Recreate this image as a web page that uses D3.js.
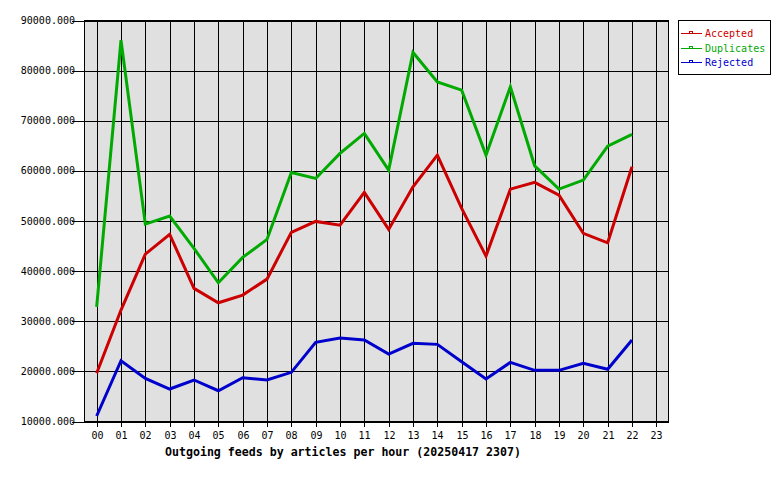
<!DOCTYPE html>
<html><head><meta charset="utf-8">
<script src="https://cdn.jsdelivr.net/npm/d3@7"></script>
<style>body{margin:0;background:#fff}svg{display:block}</style>
</head><body><svg id="c" width="780" height="480"></svg>
<script>
const hours = ["00","01","02","03","04","05","06","07","08","09","10","11","12","13","14","15","16","17","18","19","20","21","22","23"];
const accepted = [19610,32230,43400,47330,36560,33690,35220,38410,47730,49920,49180,55700,48330,56820,63140,52510,43000,56360,57700,55160,47530,45650,60810];
const duplicates = [32890,86070,49380,50980,44540,37680,42740,46330,59690,58490,63480,67470,60150,83620,77760,76100,63140,76760,61010,56360,58160,64940,67270];
const rejected = [11100,22120,18610,16480,18280,16140,18730,18280,19810,25790,26650,26250,23460,25590,25390,21920,18470,21800,20210,20210,21600,20410,26250];
const yTicks = [10000,20000,30000,40000,50000,60000,70000,80000,90000];
const seriesNames = ["Accepted","Duplicates","Rejected"];
const seriesColors = ["#cc0000","#00aa00","#0000cc"];
const title = "Outgoing feeds by articles per hour (20250417 2307)";

const series = [accepted, duplicates, rejected];
const svg = d3.select("#c");
const L = 84.5, R = 668.5, T = 20.5, B = 421.5;
const x = d3.scaleBand().domain(hours).range([L, R]);
const y = d3.scaleLinear().domain([10000, 90000]).range([B, T]);
const font = "'DejaVu Sans Mono', monospace";

svg.append("rect").attr("x", L).attr("y", T).attr("width", R - L).attr("height", B - T)
  .attr("fill", "#e0e0e0");

const g = svg.append("g").attr("shape-rendering", "crispEdges");
// horizontal grid + left ticks
yTicks.forEach(t => {
  g.append("line").attr("x1", L - 13).attr("x2", R).attr("y1", Math.round(y(t)) + 0.5).attr("y2", Math.round(y(t)) + 0.5)
    .attr("stroke", "#000");
  svg.append("text").attr("x", 75).attr("y", y(t)).attr("dy", "0.35em").attr("text-anchor", "end")
    .attr("font-family", font).attr("font-size", 10).text(d3.format(".3f")(t));
});
// vertical grid + bottom ticks
hours.forEach(h => {
  const cx = Math.round(x(h) + x.bandwidth() / 2) + 0.5;
  g.append("line").attr("x1", cx).attr("x2", cx).attr("y1", T).attr("y2", B + 5).attr("stroke", "#000");
  svg.append("text").attr("x", cx).attr("y", 435).attr("dy", "0.35em").attr("text-anchor", "middle")
    .attr("font-family", font).attr("font-size", 10).text(h);
});
g.append("rect").attr("x", L).attr("y", T).attr("width", R - L).attr("height", B - T)
  .attr("fill", "none").attr("stroke", "#000");

const line = d3.line().x((d, i) => x(hours[i]) + x.bandwidth() / 2).y(d => y(d));
series.forEach((s, i) => {
  svg.append("path").attr("d", line(s)).attr("fill", "none").attr("stroke", seriesColors[i])
    .attr("stroke-width", 3).attr("stroke-linejoin", "miter");
});

svg.append("text").attr("x", 343).attr("y", 452).attr("dy", "0.35em").attr("text-anchor", "middle")
  .attr("font-family", font).attr("font-weight", "bold").attr("font-size", 11.6).text(title);

// legend
const lg = svg.append("g");
lg.append("rect").attr("x", 678.5).attr("y", 20.5).attr("width", 92).attr("height", 54)
  .attr("fill", "#fff").attr("stroke", "#000").attr("shape-rendering", "crispEdges");
seriesNames.forEach((n, i) => {
  const yy = Math.round(33 + i * 14.7) + 0.5;
  lg.append("line").attr("x1", 681).attr("x2", 702).attr("y1", yy).attr("y2", yy)
    .attr("stroke", seriesColors[i]).attr("shape-rendering", "crispEdges");
  lg.append("rect").attr("x", 689.5).attr("y", yy - 2).attr("width", 3).attr("height", 2)
    .attr("fill", "#fff").attr("stroke", seriesColors[i]).attr("stroke-width", 1).attr("shape-rendering", "crispEdges");
  lg.append("text").attr("x", 705).attr("y", yy).attr("dy", "0.35em").attr("fill", seriesColors[i])
    .attr("font-family", font).attr("font-size", 10).text(n);
});
</script></body></html>
